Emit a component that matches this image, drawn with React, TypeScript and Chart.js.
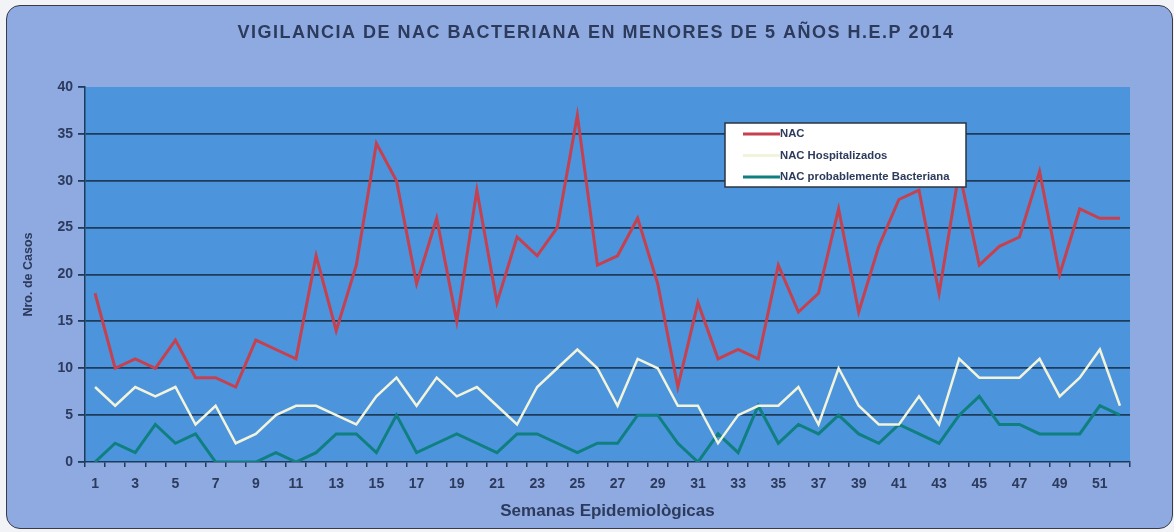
import React, { useEffect, useRef } from "react";
import { Chart, registerables } from "chart.js";

Chart.register(...registerables);

const weeks = [
  "1", "2", "3", "4", "5", "6", "7", "8", "9", "10",
  "11", "12", "13", "14", "15", "16", "17", "18", "19", "20",
  "21", "22", "23", "24", "25", "26", "27", "28", "29", "30",
  "31", "32", "33", "34", "35", "36", "37", "38", "39", "40",
  "41", "42", "43", "44", "45", "46", "47", "48", "49", "50",
  "51", "52",
];

const nac = [
  18, 10, 11, 10, 13, 9, 9, 8, 13, 12,
  11, 22, 14, 21, 34, 30, 19, 26, 15, 29,
  17, 24, 22, 25, 37, 21, 22, 26, 19, 8,
  17, 11, 12, 11, 21, 16, 18, 27, 16, 23,
  28, 29, 18, 31, 21, 23, 24, 31, 20, 27,
  26, 26,
];

const nacHosp = [
  8, 6, 8, 7, 8, 4, 6, 2, 3, 5,
  6, 6, 5, 4, 7, 9, 6, 9, 7, 8,
  6, 4, 8, 10, 12, 10, 6, 11, 10, 6,
  6, 2, 5, 6, 6, 8, 4, 10, 6, 4,
  4, 7, 4, 11, 9, 9, 9, 11, 7, 9,
  12, 6,
];

const nacBact = [
  0, 2, 1, 4, 2, 3, 0, 0, 0, 1,
  0, 1, 3, 3, 1, 5, 1, 2, 3, 2,
  1, 3, 3, 2, 1, 2, 2, 5, 5, 2,
  0, 3, 1, 6, 2, 4, 3, 5, 3, 2,
  4, 3, 2, 5, 7, 4, 4, 3, 3, 3,
  6, 5,
];

const seriesLabels = ["NAC", "NAC Hospitalizados", "NAC probablemente Bacteriana"];
const titleText = "VIGILANCIA DE NAC BACTERIANA EN MENORES DE 5 AÑOS H.E.P 2014";
const yTitle = "Nro. de Casos";
const xTitle = "Semanas Epidemiològicas";

const FONT = "'Liberation Sans', Arial, Helvetica, sans-serif";
const TEXT = "#2C3B5C";
const GRID = "#1D3C5C";
const PLOT_BG = "#4C94DC";

const plotBg = {
  id: "plotBg",
  beforeDraw(chart: any) {
    const { ctx, chartArea } = chart;
    ctx.save();
    ctx.fillStyle = PLOT_BG;
    ctx.fillRect(chartArea.left, chartArea.top, chartArea.right - chartArea.left, chartArea.bottom - chartArea.top);
    ctx.restore();
  },
};

const headTitle = {
  id: "headTitle",
  afterDraw(chart: any) {
    const { ctx } = chart;
    ctx.save();
    ctx.font = `bold 18px ${FONT}`;
    try {
      (ctx as any).letterSpacing = "1.5px";
    } catch (e) {}
    ctx.fillStyle = TEXT;
    ctx.textAlign = "center";
    ctx.textBaseline = "middle";
    ctx.fillText(titleText, 589, 27);
    ctx.restore();
  },
};

const boxLegend = {
  id: "boxLegend",
  afterDatasetsDraw(chart: any) {
    const { ctx } = chart;
    const x = 718, y = 117, w = 241, h = 64;
    ctx.save();
    ctx.fillStyle = "#FFFFFF";
    ctx.fillRect(x, y, w, h);
    ctx.strokeStyle = "#2A3440";
    ctx.lineWidth = 1.5;
    ctx.strokeRect(x, y, w, h);
    ctx.font = `bold 11.3px ${FONT}`;
    ctx.textBaseline = "middle";
    ctx.textAlign = "left";
    chart.data.datasets.forEach((ds: any, i: number) => {
      const ry = y + 11 + i * 21.5;
      ctx.strokeStyle = ds.borderColor;
      ctx.lineWidth = 3;
      ctx.beginPath();
      ctx.moveTo(x + 18, ry);
      ctx.lineTo(x + 55, ry);
      ctx.stroke();
      ctx.fillStyle = TEXT;
      ctx.fillText(ds.label, x + 55, ry);
    });
    ctx.restore();
  },
};

export default function App() {
  const ref = useRef<HTMLCanvasElement>(null);

  useEffect(() => {
    if (!ref.current) return;
    const chart = new Chart(ref.current, {
      type: "line",
      data: {
        labels: weeks,
        datasets: [
          { label: seriesLabels[0], data: nac, borderColor: "#C6414F", borderWidth: 3, pointRadius: 0, tension: 0 },
          { label: seriesLabels[1], data: nacHosp, borderColor: "#F1F4DA", borderWidth: 2.5, pointRadius: 0, tension: 0 },
          { label: seriesLabels[2], data: nacBact, borderColor: "#0F7F80", borderWidth: 3, pointRadius: 0, tension: 0 },
        ],
      },
      options: {
        responsive: false,
        animation: false,
        layout: { padding: { left: 0, right: 42, top: 81, bottom: 0 } },
        plugins: {
          legend: { display: false },
          tooltip: { enabled: false },
          title: { display: false },
        },
        scales: {
          x: {
            offset: true,
            grid: {
              offset: true,
              drawOnChartArea: false,
              drawTicks: true,
              tickLength: 5,
              color: GRID,
              lineWidth: 1.5,
            },
            border: { display: true, color: GRID, width: 1.5 },
            ticks: {
              autoSkip: false,
              maxRotation: 0,
              minRotation: 0,
              padding: 8.5,
              color: TEXT,
              font: { family: FONT, size: 14, weight: "bold" },
              callback: (_v: any, i: number) => (i % 2 === 0 ? weeks[i] : ""),
            },
            title: {
              display: true,
              text: xTitle,
              color: TEXT,
              font: { family: FONT, size: 17, weight: "bold" },
              padding: { top: 0, bottom: 6 },
            },
            afterFit: (s: any) => {
              s.height = 66;
            },
          },
          y: {
            min: 0,
            max: 40,
            ticks: {
              stepSize: 5,
              padding: 5,
              color: TEXT,
              font: { family: FONT, size: 14, weight: "bold" },
            },
            grid: {
              color: (c: any) => (c.tick && (c.tick.value === 40 || c.tick.value === 0) ? "rgba(0,0,0,0)" : GRID),
              tickColor: GRID,
              tickLength: 7,
              lineWidth: 1.8,
            },
            border: { display: true, color: GRID, width: 1.5 },
            title: {
              display: true,
              text: yTitle,
              color: TEXT,
              font: { family: FONT, size: 12.5, weight: "bold" },
              padding: { top: 14, bottom: 0 },
            },
            afterFit: (s: any) => {
              s.width = 78;
            },
          },
        },
      },
      plugins: [plotBg, boxLegend, headTitle],
    } as any);
    return () => chart.destroy();
  }, []);

  return (
    <div style={{ position: "absolute", left: 0, top: 0, width: 1174, height: 532, background: "#F2F3F6", overflow: "hidden" }}>
      <div
        style={{
          position: "absolute",
          left: 6,
          top: 5,
          width: 1167,
          height: 524,
          background: "#8FA9E1",
          border: "1.5px solid #3A3A44",
          borderRadius: 14,
          boxSizing: "border-box",
        }}
      />
      <canvas ref={ref} width={1165} height={522} style={{ position: "absolute", left: 7, top: 6 }} />
    </div>
  );
}
